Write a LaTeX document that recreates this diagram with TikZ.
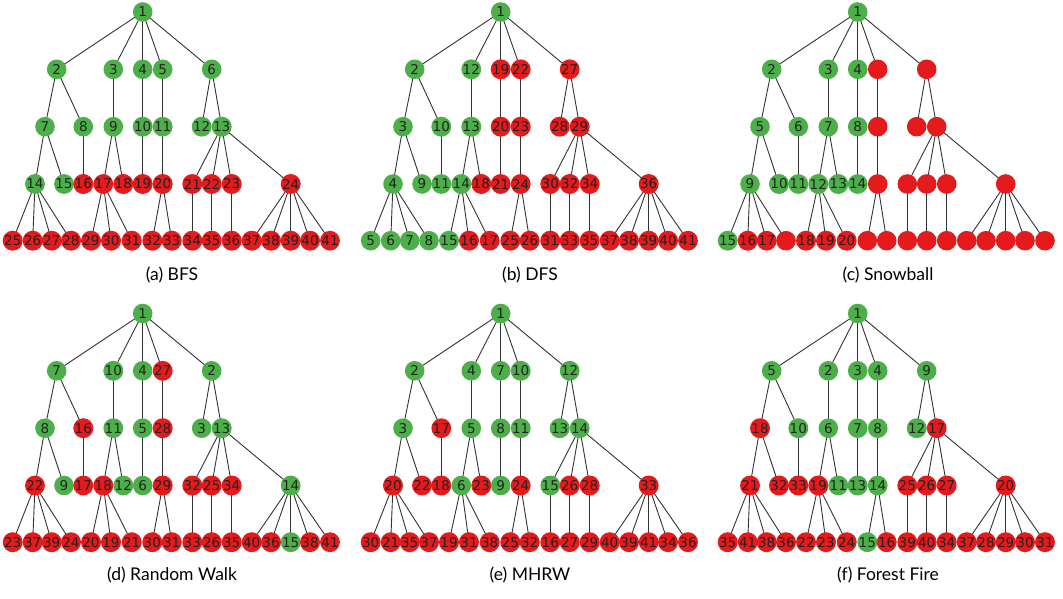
\documentclass[tikz,border=0pt]{standalone}
\usepackage{fontspec}
\usetikzlibrary{backgrounds}
\newfontfamily\dvsans{DejaVu Sans}
\newfontfamily\capfont{Lato}
\definecolor{cg}{HTML}{4DAF4A}
\definecolor{cr}{HTML}{E41A1C}
\definecolor{edgecol}{HTML}{333333}
\definecolor{txtcol}{HTML}{222222}
\def\baselist{1/142.7/12,
2/56.7/69.3, 3/113.3/69.3, 4/142.7/69.3, 5/162.7/69.3, 6/211.7/69.3,
7/45/126.7, 8/83.3/126.7, 9/113.3/126.7, 10/142.7/126.7, 11/162.7/126.7, 12/201.7/126.7, 13/221.7/126.7,
14/35/184, 15/64/184, 16/83.3/184, 17/103.3/184, 18/123.3/184, 19/142.7/184, 20/162.7/184, 21/192.3/184, 22/211.7/184, 23/231.7/184, 24/290.7/184,
25/12.7/240.7, 26/32.7/240.7, 27/51.7/240.7, 28/71/240.7, 29/91/240.7, 30/111/240.7, 31/131.7/240.7, 32/152.3/240.7, 33/171.7/240.7, 34/192.3/240.7, 35/211.7/240.7, 36/231.7/240.7, 37/251.7/240.7, 38/271/240.7, 39/290.7/240.7, 40/310/240.7, 41/330/240.7}
\def\edgelist{1/2,1/3,1/4,1/5,1/6,2/7,2/8,3/9,4/10,5/11,6/12,6/13,7/14,7/15,8/16,9/17,9/18,10/19,11/20,13/21,13/22,13/23,13/24,14/25,14/26,14/27,14/28,17/29,17/30,17/31,20/32,20/33,21/34,22/35,23/36,24/37,24/38,24/39,24/40,24/41}
\newcommand\drawtree[4]{%
  \begin{scope}[shift={(#2,-#3)}]
    \foreach \i/\x/\y in \baselist {\coordinate (#1c\i) at (\x,-\y);}
    \foreach \i/\l/\c in {#4} {\node[vert,fill=c\c] (#1\i) at (#1c\i) {\l};}
    \begin{pgfonlayer}{background}
      \foreach \a/\b in \edgelist {\draw[linkline] (#1\a.center) -- (#1\b.center);}
    \end{pgfonlayer}
  \end{scope}}
\tikzset{
  vert/.style={circle,draw=none,minimum size=19.6pt,inner sep=0pt,text=txtcol,
    font=\dvsans\fontsize{13.5}{14}\selectfont},
  linkline/.style={draw=edgecol,line width=0.9pt},
  captext/.style={font=\capfont\fontsize{17.5}{20}\selectfont,text=black,inner sep=0pt}
}
\begin{document}
\begin{tikzpicture}[x=1pt,y=1pt]
\useasboundingbox (0,0) rectangle (1063,-599);
% (a) BFS
\drawtree{a}{0}{0}{1/1/g,2/2/g,3/3/g,4/4/g,5/5/g,6/6/g,7/7/g,8/8/g,9/9/g,10/10/g,11/11/g,12/12/g,13/13/g,14/14/g,15/15/g,
16/16/r,17/17/r,18/18/r,19/19/r,20/20/r,21/21/r,22/22/r,23/23/r,24/24/r,25/25/r,26/26/r,27/27/r,28/28/r,29/29/r,30/30/r,31/31/r,32/32/r,33/33/r,34/34/r,35/35/r,36/36/r,37/37/r,38/38/r,39/39/r,40/40/r,41/41/r}
% (b) DFS
\drawtree{b}{358}{0}{1/1/g, 2/2/g, 3/12/g, 4/19/r, 5/22/r, 6/27/r,
7/3/g, 8/10/g, 9/13/g, 10/20/r, 11/23/r, 12/28/r, 13/29/r,
14/4/g, 15/9/g, 16/11/g, 17/14/g, 18/18/r, 19/21/r, 20/24/r, 21/30/r, 22/32/r, 23/34/r, 24/36/r,
25/5/g, 26/6/g, 27/7/g, 28/8/g, 29/15/g, 30/16/r, 31/17/r, 32/25/r, 33/26/r, 34/31/r, 35/33/r, 36/35/r, 37/37/r, 38/38/r, 39/39/r, 40/40/r, 41/41/r}
% (c) Snowball
\drawtree{c}{715}{0}{1/1/g, 2/2/g, 3/3/g, 4/4/g, 5//r, 6//r,
7/5/g, 8/6/g, 9/7/g, 10/8/g, 11//r, 12//r, 13//r,
14/9/g, 15/10/g, 16/11/g, 17/12/g, 18/13/g, 19/14/g, 20//r, 21//r, 22//r, 23//r, 24//r,
25/15/g, 26/16/r, 27/17/r, 28//r, 29/18/r, 30/19/r, 31/20/r, 32//r, 33//r, 34//r, 35//r, 36//r, 37//r, 38//r, 39//r, 40//r, 41//r}
% (d) Random Walk
\drawtree{d}{0}{301.5}{1/1/g, 2/7/g, 3/10/g, 4/4/g, 5/27/r, 6/2/g,
7/8/g, 8/16/r, 9/11/g, 10/5/g, 11/28/r, 12/3/g, 13/13/g,
14/22/r, 15/9/g, 16/17/r, 17/18/r, 18/12/g, 19/6/g, 20/29/r, 21/32/r, 22/25/r, 23/34/r, 24/14/g,
25/23/r, 26/37/r, 27/39/r, 28/24/r, 29/20/r, 30/19/r, 31/21/r, 32/30/r, 33/31/r, 34/33/r, 35/26/r, 36/35/r, 37/40/r, 38/36/r, 39/15/g, 40/38/r, 41/41/r}
% (e) MHRW
\drawtree{e}{358}{301.5}{1/1/g, 2/2/g, 3/4/g, 4/7/g, 5/10/g, 6/12/g,
7/3/g, 8/17/r, 9/5/g, 10/8/g, 11/11/g, 12/13/g, 13/14/g,
14/20/r, 15/22/r, 16/18/r, 17/6/g, 18/23/r, 19/9/g, 20/24/r, 21/15/g, 22/26/r, 23/28/r, 24/33/r,
25/30/r, 26/21/r, 27/35/r, 28/37/r, 29/19/r, 30/31/r, 31/38/r, 32/25/r, 33/32/r, 34/16/r, 35/27/r, 36/29/r, 37/40/r, 38/39/r, 39/41/r, 40/34/r, 41/36/r}
% (f) Forest Fire
\drawtree{f}{715}{301.5}{1/1/g, 2/5/g, 3/2/g, 4/3/g, 5/4/g, 6/9/g,
7/18/r, 8/10/g, 9/6/g, 10/7/g, 11/8/g, 12/12/g, 13/17/r,
14/21/r, 15/32/r, 16/33/r, 17/19/r, 18/11/g, 19/13/g, 20/14/g, 21/25/r, 22/26/r, 23/27/r, 24/20/r,
25/35/r, 26/41/r, 27/38/r, 28/36/r, 29/22/r, 30/23/r, 31/24/r, 32/15/g, 33/16/r, 34/39/r, 35/40/r, 36/34/r, 37/37/r, 38/28/r, 39/29/r, 40/30/r, 41/31/r}
% captions
\node[captext] (capa) at (172,-275) {(a) BFS};
\node[captext] (capb) at (530,-275) {(b) DFS};
\node[captext] (capc) at (888,-275) {(c) Snowball};
\node[captext] (capd) at (172,-575) {(d) Random Walk};
\node[captext] (cape) at (530,-575) {(e) MHRW};
\node[captext] (capf) at (888,-575) {(f) Forest Fire};
\end{tikzpicture}
\end{document}
